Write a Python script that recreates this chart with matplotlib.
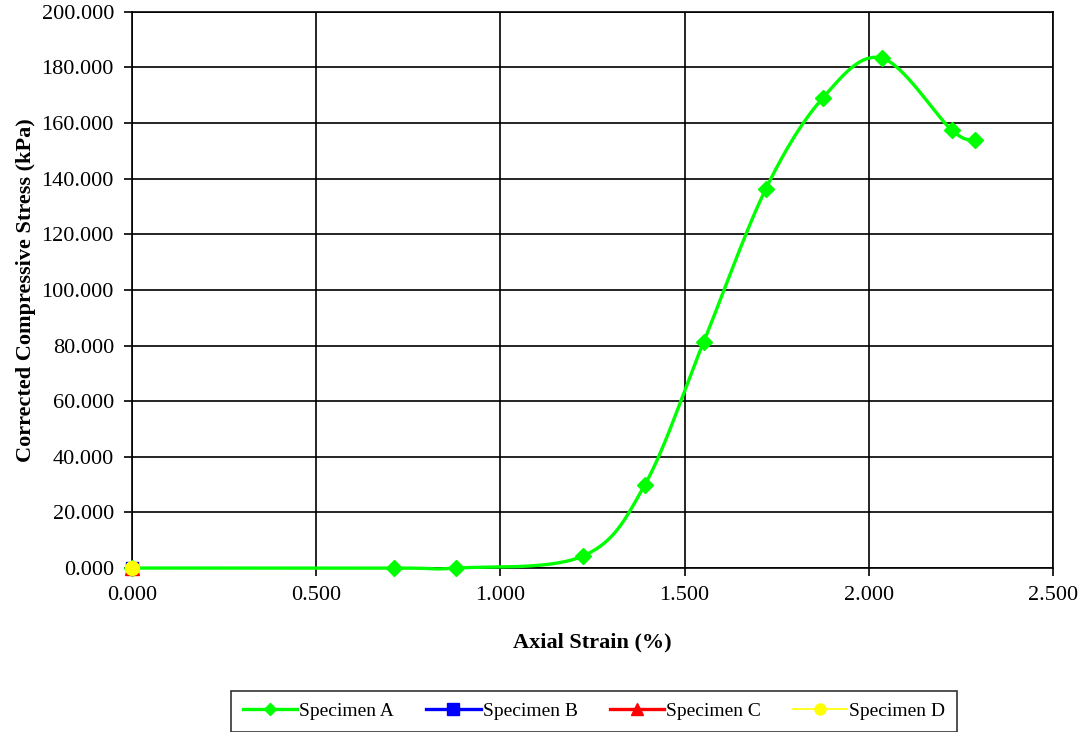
import numpy as np
import matplotlib.pyplot as plt

plt.rcParams['font.family'] = ['Liberation Serif', 'DejaVu Serif']

# data
strain_a = [0.000, 0.711, 0.879, 1.224, 1.392, 1.552, 1.720, 1.875, 2.035, 2.225, 2.288]
stress_a = [0.000, 0.000, 0.000, 4.300, 29.900, 81.400, 136.200, 169.000, 183.400, 157.500, 153.900]
strain_b = [0.000]
stress_b = [0.000]
strain_c = [0.000]
stress_c = [0.000]
strain_d = [0.000]
stress_d = [0.000]

x_ticks = [0.0, 0.5, 1.0, 1.5, 2.0, 2.5]
y_ticks = list(range(0, 201, 20))


def smooth(x, y, n=40):
    # excel-like smoothed line: bezier segments with catmull-rom control points
    x = np.asarray(x, float)
    y = np.asarray(y, float)
    p = np.column_stack([x, y])
    out = [p[0]]
    for i in range(len(p) - 1):
        p0 = p[i - 1] if i > 0 else p[i]
        p1 = p[i]
        p2 = p[i + 1]
        p3 = p[i + 2] if i + 2 < len(p) else p[i + 1]
        c1 = p1 + (p2 - p0) / 6
        c2 = p2 - (p3 - p1) / 6
        t = np.linspace(0, 1, n)[1:, None]
        seg = (1 - t) ** 3 * p1 + 3 * (1 - t) ** 2 * t * c1 + 3 * (1 - t) * t ** 2 * c2 + t ** 3 * p2
        out.extend(seg)
    out = np.array(out)
    return out[:, 0], out[:, 1]


fig = plt.figure(figsize=(10.87, 7.32), dpi=100)
ax = fig.add_axes([0.1214, 0.224, 0.8473, 0.7598])

sx, sy = smooth(strain_a, stress_a)
ax.plot(sx, sy, color='#00ff00', lw=2.4, zorder=3, clip_on=False)
ax.plot(strain_a, stress_a, ls='none', marker='D', ms=8, color='#00ff00', zorder=4, clip_on=False)
ax.plot(strain_b, stress_b, ls='none', marker='s', ms=9, color='#0000ff', zorder=5, clip_on=False)
ax.plot(strain_c, stress_c, ls='none', marker='^', ms=10, color='#ff0000', zorder=6, clip_on=False)
ax.plot(strain_d, stress_d, ls='none', marker='o', ms=10, color='#ffff00', zorder=7, clip_on=False)

# legend proxies (line + marker)
h_a, = ax.plot([], [], color='#00ff00', lw=2.4, marker='D', ms=6)
h_b, = ax.plot([], [], color='#0000ff', lw=2.4, marker='s', ms=8)
h_c, = ax.plot([], [], color='#ff0000', lw=2.4, marker='^', ms=8)
h_d, = ax.plot([], [], color='#ffff00', lw=1.2, marker='o', ms=8)

ax.set_xlim(0, 2.5)
ax.set_ylim(0, 200)
ax.set_xticks(x_ticks)
ax.set_yticks(y_ticks)
ax.set_xticklabels([f'{v:.3f}' for v in x_ticks], fontsize=16)
ax.set_yticklabels([f'{v:.3f}' for v in y_ticks], fontsize=16)
ax.tick_params(direction='out', length=6, width=1.2, pad=7)
ax.grid(True, color='black', lw=1.2)
ax.set_axisbelow(True)
for s in ax.spines.values():
    s.set_linewidth(1.2)

ax.set_xlabel('Axial Strain (%)', fontsize=16, fontweight='bold', labelpad=20)
ax.set_ylabel('Corrected Compressive Stress (kPa)', fontsize=16, fontweight='bold', labelpad=4)

leg = fig.legend([h_a, h_b, h_c, h_d], ['Specimen A', 'Specimen B', 'Specimen C', 'Specimen D'],
                 loc='center', bbox_to_anchor=(0.5465, 0.0283), ncol=4, fontsize=14,
                 frameon=True, fancybox=False, edgecolor='black', handlelength=2.8,
                 handletextpad=0.1, columnspacing=1.65, borderpad=0.6)
leg.get_frame().set_linewidth(1.2)

fig.savefig('out.png', dpi=100)
